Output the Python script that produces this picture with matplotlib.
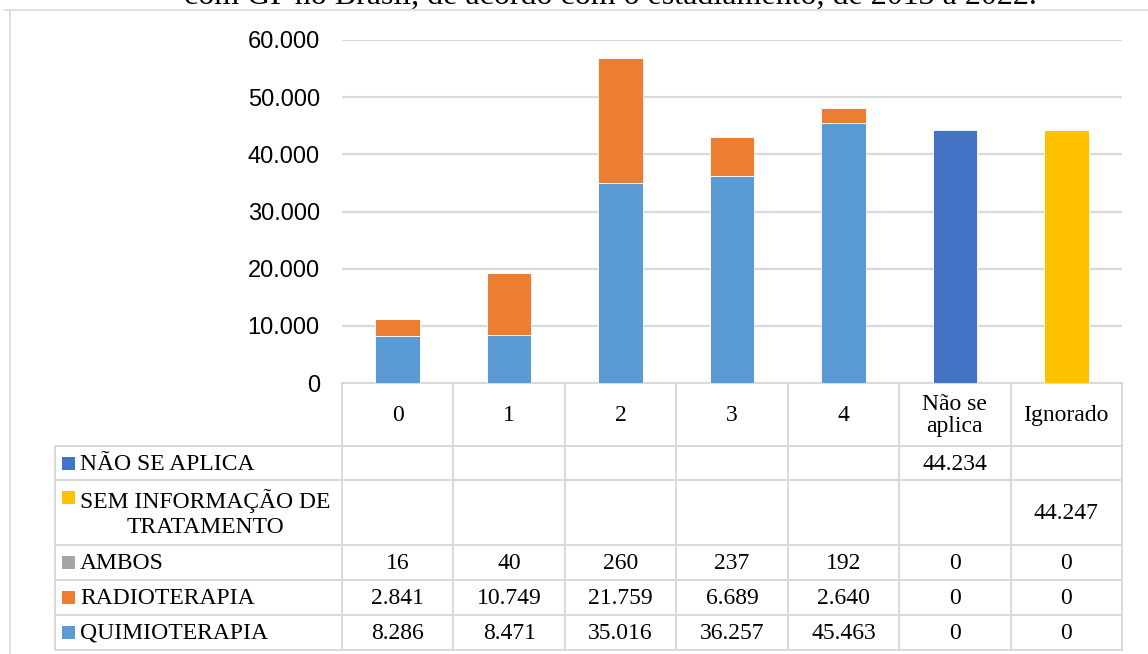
import matplotlib
matplotlib.use("Agg")
import matplotlib.pyplot as plt
from matplotlib.transforms import blended_transform_factory
from matplotlib.patches import Rectangle

# --- data -----------------------------------------------------------------
categories = ["0", "1", "2", "3", "4", "Não se\naplica", "Ignorado"]
quimioterapia = [8286, 8471, 35016, 36257, 45463, 0, 0]
radioterapia = [2841, 10749, 21759, 6689, 2640, 0, 0]
ambos = [16, 40, 260, 237, 192, 0, 0]
sem_informacao = [None, None, None, None, None, None, 44247]
nao_se_aplica = [None, None, None, None, None, 44234, None]

# stacking order, bottom to top
series_names = ["QUIMIOTERAPIA", "RADIOTERAPIA", "AMBOS",
                "SEM INFORMAÇÃO DE\nTRATAMENTO", "NÃO SE APLICA"]
series_values = [quimioterapia, radioterapia, ambos, sem_informacao, nao_se_aplica]
series_colors = ["#5B9BD5", "#ED7D31", "#A5A5A5", "#FFC000", "#4472C4"]

y_ticks = [0, 10000, 20000, 30000, 40000, 50000, 60000]
title = "com GP no Brasil, de acordo com o estadiamento, de 2013 a 2022."

# --- figure ---------------------------------------------------------------
W, H = 1148, 654
fig = plt.figure(figsize=(W / 100, H / 100), dpi=100)
fig.patch.set_facecolor("white")

GRID = "#D9D9D9"
SANS = "Liberation Sans"
SERIF = "Liberation Serif"


def fmt(v):
    return f"{int(v):,}".replace(",", ".")


# overlay in pixel coordinates (origin top-left) for frame, table and title
ov = fig.add_axes([0, 0, 1, 1], zorder=0)
ov.set_xlim(0, W)
ov.set_ylim(H, 0)
ov.axis("off")

# plot area
ax_l, ax_r, ax_t, ax_b = 342, 1122, 40, 383
ax = fig.add_axes([ax_l / W, 1 - ax_b / H, (ax_r - ax_l) / W, (ax_b - ax_t) / H], zorder=1)
ax.patch.set_alpha(0)

x = list(range(len(categories)))
bottom = [0] * len(categories)
for vals, color in zip(series_values, series_colors):
    h = [v if v is not None else 0 for v in vals]
    ax.bar(x, h, width=0.4, bottom=bottom, color=color,
           edgecolor="white", linewidth=0.6, zorder=3)
    bottom = [b + v for b, v in zip(bottom, h)]

ax.set_xlim(-0.5, len(categories) - 0.5)
ax.set_ylim(0, 60000)
ax.set_yticks(y_ticks)
ax.set_yticklabels([fmt(t) for t in y_ticks], fontsize=17, fontfamily=SANS)
ax.tick_params(axis="y", length=0, pad=16)
ax.tick_params(axis="x", length=0, labelbottom=False)
ax.yaxis.grid(True, color=GRID, linewidth=1.6, zorder=0)
for s in ax.spines.values():
    s.set_visible(False)

# --- outer frame ----------------------------------------------------------
ov.plot([4, W], [10, 10], color=GRID, lw=1.2, solid_capstyle="butt")
ov.plot([10, 10], [10, H], color=GRID, lw=1.2, solid_capstyle="butt")

# --- title (runs off the top edge) ----------------------------------------
t = ov.text(610, 4, title, ha="center", va="baseline", fontsize=22,
            fontfamily=SERIF, color="#000000")
fig.canvas.draw()
bb = t.get_window_extent()
t.set_fontsize(22 * 850 / bb.width)

# --- data table -----------------------------------------------------------
bt = blended_transform_factory(ax.transData, ov.transData)
n = len(categories)
header_top, header_bot = 383, 446
row_edges = [446, 480, 545, 580, 615, 650]
label_left = 55
lw_tab = 1.4
FS = 17

# table rows displayed top-down: reverse of stacking order
rows = list(zip(series_names, series_values, series_colors))[::-1]

# horizontal lines
ov.plot([ax_l, ax_r], [header_top, header_top], color=GRID, lw=lw_tab)
for y in row_edges:
    ov.plot([label_left, ax_r], [y, y], color=GRID, lw=lw_tab)
# vertical lines
ov.plot([label_left, label_left], [row_edges[0], row_edges[-1]], color=GRID, lw=lw_tab)
for i in range(n + 1):
    ov.plot([i - 0.5, i - 0.5], [header_top, row_edges[-1]], color=GRID,
            lw=lw_tab, transform=bt)

# header labels
for i, c in enumerate(categories):
    ov.text(i, (header_top + header_bot) / 2 + 1, c, transform=bt, ha="center",
            va="center", fontsize=FS, fontfamily=SERIF, linespacing=1.05)

# rows
for r, (name, vals, color) in enumerate(rows):
    y0, y1 = row_edges[r], row_edges[r + 1]
    yc = (y0 + y1) / 2
    first_line_y = y0 + 17 if "\n" in name else yc
    ov.add_patch(Rectangle((62, first_line_y - 6.5), 13, 13, facecolor=color,
                           edgecolor="none"))
    ov.text(80, yc + 1, name, ha="left", va="center", fontsize=FS,
            fontfamily=SERIF, multialignment="center", linespacing=1.2)
    for i, v in enumerate(vals):
        if v is None:
            continue
        ov.text(i, yc + 1, fmt(v), transform=bt, ha="center", va="center",
                fontsize=FS, fontfamily=SERIF)

fig.savefig("out.png", dpi=100, facecolor="white")
